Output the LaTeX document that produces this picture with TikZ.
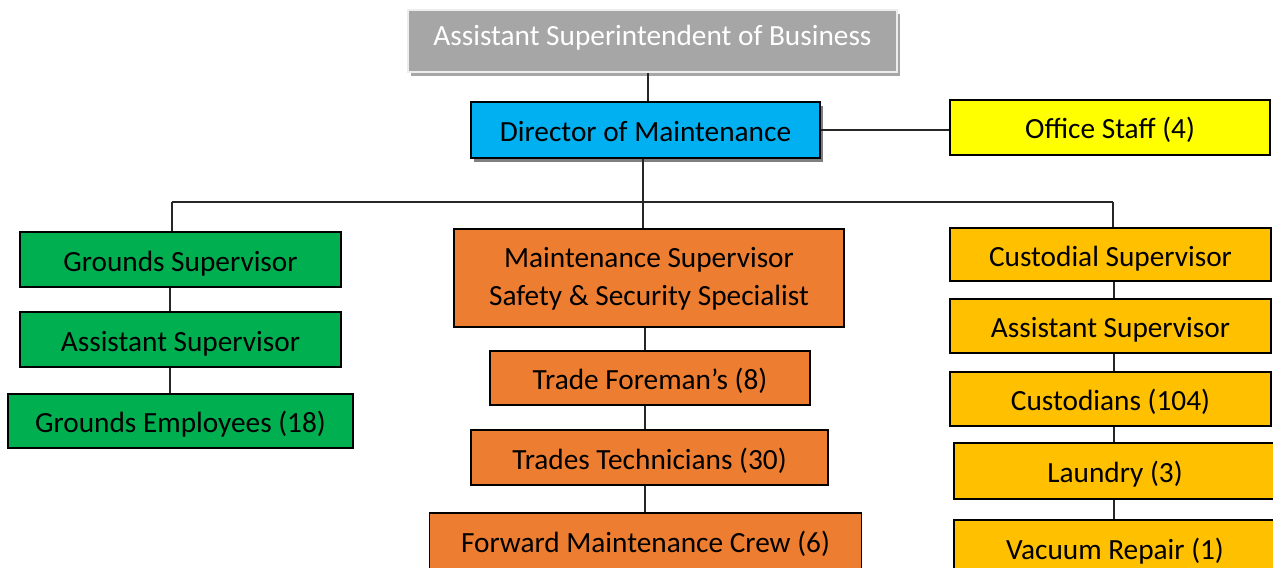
\documentclass[tikz,border=0pt]{standalone}
\usepackage{fontspec}
\setmainfont{Carlito}
\usetikzlibrary{shadows}
\definecolor{topgray}{HTML}{A6A6A6}
\definecolor{dirblue}{HTML}{00B0F0}
\definecolor{offyellow}{HTML}{FFFF00}
\definecolor{grgreen}{HTML}{00B050}
\definecolor{mtorange}{HTML}{ED7D31}
\definecolor{cugold}{HTML}{FFC000}
\begin{document}
\begin{tikzpicture}[x=1pt,y=-1pt,
  box/.style={draw=black, line width=1.6pt, inner sep=0pt, align=center,
    font=\fontsize{29.3}{38}\selectfont, text=black,
    text height=23.5pt, text depth=0.5pt},
  topbox/.style={box, fill=topgray, draw=white!93!black, line width=2.5pt, text=white,
    text height=18pt, text depth=8pt,
    drop shadow={shadow xshift=3pt, shadow yshift=-4pt, opacity=0.35, fill=black}},
  dirbox/.style={box, fill=dirblue,
    drop shadow={shadow xshift=3pt, shadow yshift=-4pt, opacity=0.5, fill=black}},
  offbox/.style={box, fill=offyellow},
  grbox/.style={box, fill=grgreen},
  mtbox/.style={box, fill=mtorange},
  cubox/.style={box, fill=cugold},
  link/.style={draw=black!85, line width=1.3pt}]
\useasboundingbox (0,0) rectangle (1273,567);

% top of the chart
\node[topbox, minimum width=489, minimum height=62] (asb) at (652.5,41) {Assistant Superintendent of Business};
\node[dirbox, minimum width=349, minimum height=56] (dir) at (645.5,130) {Director of Maintenance};
\node[offbox, minimum width=320, minimum height=55] (off) at (1110,127.5) {Office Staff (4)};

% grounds column
\node[grbox, minimum width=321, minimum height=55] (gs) at (180.5,259.5) {Grounds Supervisor};
\node[grbox, minimum width=321, minimum height=55] (ga) at (180.5,339.5) {Assistant Supervisor};
\node[grbox, minimum width=345, minimum height=54] (ge) at (180.5,421) {Grounds Employees (18)};

% maintenance column (two-line head box: height covers both lines)
\node[mtbox, minimum width=390, minimum height=98, text height=62pt, text depth=8pt] (ms) at (649,278) {Maintenance Supervisor\\Safety \& Security Specialist};
\node[mtbox, minimum width=320, minimum height=54] (tf) at (650,378) {Trade Foreman’s (8)};
\node[mtbox, minimum width=357, minimum height=55] (tt) at (649.5,457.5) {Trades Technicians (30)};
\node[mtbox, minimum width=432, minimum height=56] (fm) at (645.5,541) {Forward Maintenance Crew (6)};

% custodial column
\node[cubox, minimum width=321, minimum height=53] (cs) at (1110.5,254.5) {Custodial Supervisor};
\node[cubox, minimum width=321, minimum height=54] (ca) at (1110.5,326) {Assistant Supervisor};
\node[cubox, minimum width=321, minimum height=54] (cc) at (1110.5,399) {Custodians (104)};
\node[cubox, minimum width=322, minimum height=56] (cl) at (1115,471) {Laundry (3)};
\node[cubox, minimum width=322, minimum height=56] (cv) at (1115,548) {Vacuum Repair (1)};

% column guides and the branching bus
\coordinate (topx) at (648,0);
\coordinate (busL) at (172,202);
\coordinate (busM) at (643,202);
\coordinate (busR) at (1113,202);
\coordinate (gx) at (170,0);
\coordinate (mx) at (645,0);
\coordinate (cx) at (1114,0);

\draw[link] (asb.south -| topx) -- (dir.north -| topx);
\draw[link] (dir.east) -- (off.west |- dir.east);
\draw[link] (dir.south -| busM) -- (busM);
\draw[link] (busL) -- (busR);
\draw[link] (busL) -- (gs.north -| busL);
\draw[link] (busM) -- (ms.north -| busM);
\draw[link] (busR) -- (cs.north -| busR);

\draw[link] (gs.south -| gx) -- (ga.north -| gx);
\draw[link] (ga.south -| gx) -- (ge.north -| gx);

\draw[link] (ms.south -| mx) -- (tf.north -| mx);
\draw[link] (tf.south -| mx) -- (tt.north -| mx);
\draw[link] (tt.south -| mx) -- (fm.north -| mx);

\draw[link] (cs.south -| cx) -- (ca.north -| cx);
\draw[link] (ca.south -| cx) -- (cc.north -| cx);
\draw[link] (cc.south -| cx) -- (cl.north -| cx);
\draw[link] (cl.south -| cx) -- (cv.north -| cx);
\end{tikzpicture}
\end{document}
